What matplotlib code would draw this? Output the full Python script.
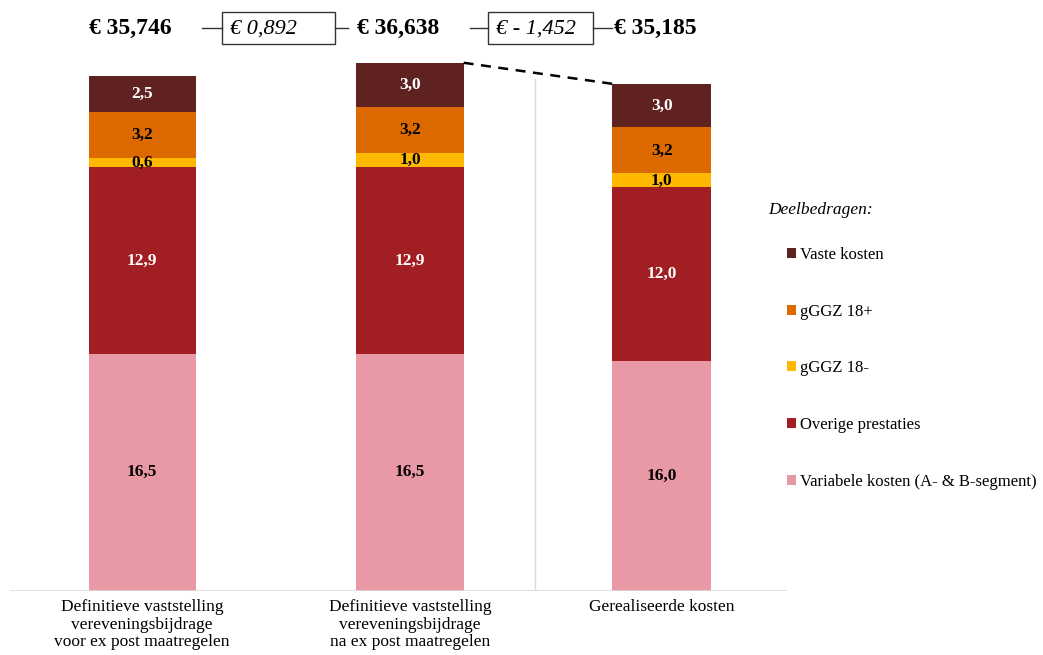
import matplotlib.pyplot as plt
from matplotlib.patches import Rectangle, Patch

plt.rcParams['font.family'] = ['Liberation Serif', 'DejaVu Serif']

# ---------------------------------------------------------
categories = ['Definitieve vaststelling\nvereveningsbijdrage\nvoor ex post maatregelen',
              'Definitieve vaststelling\nvereveningsbijdrage\nna ex post maatregelen',
              'Gerealiseerde kosten']
series = ['Variabele kosten (A- & B-segment)', 'Overige prestaties',
          'gGGZ 18-', 'gGGZ 18+', 'Vaste kosten']
variabel = [16.46, 16.46, 15.98]
overig = [12.94, 12.94, 12.02]
ggz_min = [0.62, 0.95, 0.96]
ggz_plus = [3.20, 3.24, 3.20]
vast = [2.53, 3.05, 3.02]
seg_labels = [['16,5', '12,9', '0,6', '3,2', '2,5'],
              ['16,5', '12,9', '1,0', '3,2', '3,0'],
              ['16,0', '12,0', '1,0', '3,2', '3,0']]
totals = ['€ 35,746', '€ 36,638', '€ 35,185']
diffs = ['€ 0,892', '€ - 1,452']

colors = ['#E899A5', '#A11F22', '#FFB800', '#DC6A00', '#602220']
text_colors = ['black', 'white', 'black', 'black', 'white']

W, H = 1043, 655
fx = lambda px: px / W
fy = lambda py: 1 - py / H

fig = plt.figure(figsize=(W / 100, H / 100), dpi=100)
ax = fig.add_axes([fx(10), 64 / H, (787 - 10) / W, (591 - 10) / H])

xpos = [0, 1, 1.94]
widths = [0.4, 0.4, 0.37]
data = [variabel, overig, ggz_min, ggz_plus, vast]

bottom = [0, 0, 0]
for k, vals in enumerate(data):
    ax.bar(xpos, vals, widths, bottom=bottom, color=colors[k], label=series[k])
    for i in range(3):
        ax.text(xpos[i], bottom[i] + vals[i] / 2, seg_labels[i][k], ha='center', va='center',
                fontsize=12.5, fontweight='bold', color=text_colors[k])
    bottom = [bottom[i] + vals[i] for i in range(3)]

# dashed connector between bar 2 and bar 3
ax.plot([xpos[1] + widths[1] / 2, xpos[2] - widths[2] / 2], [bottom[1], bottom[2]],
        color='black', linestyle=(0, (4, 3)), linewidth=1.8, clip_on=False)
# separator line
ax.plot([1.466, 1.466], [0, 35.5], color='#D9D9D9', linewidth=1)
ax.axhline(0, color='#D9D9D9', linewidth=1.2)

ax.set_xlim(-0.493, 2.407)
ax.set_ylim(0, 40.3)
for s in ax.spines.values():
    s.set_visible(False)
ax.set_yticks([])
ax.set_xticks(xpos, categories, fontsize=12.5, linespacing=1.12)
ax.tick_params(axis='x', length=0, pad=6)

# totals and differences at the top
total_px = [89, 357, 614]
for t, px in zip(totals, total_px):
    fig.text(fx(px), fy(28), t, ha='left', va='center', fontsize=17, fontweight='bold')
box_px = [(222, 335), (488, 593)]
for d, (x0, x1) in zip(diffs, box_px):
    fig.patches.append(Rectangle((fx(x0), fy(44)), fx(x1) - fx(x0), fy(12) - fy(44),
                                 transform=fig.transFigure, fill=False,
                                 edgecolor='#333333', linewidth=1))
    fig.text(fx(x0 + 8), fy(29), d, ha='left', va='center', fontsize=16, fontstyle='italic')
for x0, x1 in [(202, 222), (335, 348), (470, 488), (593, 612)]:
    fig.add_artist(plt.Line2D([fx(x0), fx(x1)], [fy(28), fy(28)], transform=fig.transFigure,
                              color='#333333', linewidth=1))

# legend
fig.text(fx(768), fy(210), 'Deelbedragen:', ha='left', va='center', fontsize=12.5, fontstyle='italic')
handles = [Patch(facecolor=colors[k], label=series[k]) for k in range(5)][::-1]
fig.legend(handles=handles, loc='upper left', bbox_to_anchor=(fx(780), fy(240)),
           frameon=False, fontsize=12, handlelength=0.55, handleheight=0.55,
           handletextpad=0.25, labelspacing=2.45, borderaxespad=0)

plt.savefig('out.png', dpi=100)
